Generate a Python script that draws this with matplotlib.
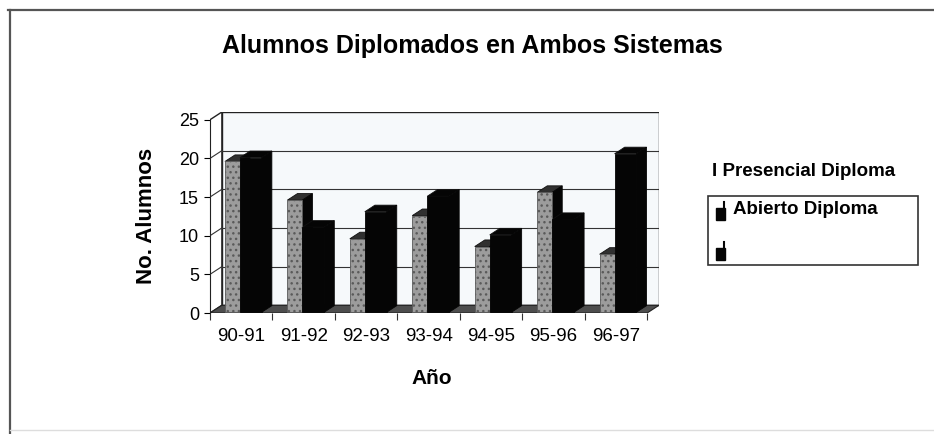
import matplotlib.pyplot as plt
from matplotlib.patches import Polygon, Rectangle
from matplotlib.lines import Line2D

years = ['90-91', '91-92', '92-93', '93-94', '94-95', '95-96', '96-97']
presencial = [19.5, 14.5, 9.5, 12.5, 8.5, 15.5, 7.5]
abierto = [20, 11, 13, 15, 10, 12, 20.5]
y_ticks = [0, 5, 10, 15, 20, 25]

plt.rcParams['font.family'] = ['Liberation Sans', 'DejaVu Sans']

W, H = 934, 434
fig = plt.figure(figsize=(W / 100, H / 100), dpi=100)

n = len(years)
ymax = y_ticks[-1]
DX, DY = 0.19, 1.0        # depth of the 3d box in data units
f0, f1 = 0.1, 0.95        # bar depth inside the box

ax = fig.add_axes([210 / W, 121 / H, 449 / W, 201 / H])
ax.set_xlim(-0.5, n - 0.5 + DX)
ax.set_ylim(0, ymax + DY)
ax.patch.set_visible(False)

x0, x1 = -0.5, n - 0.5
# walls and floor
ax.add_patch(Rectangle((x0 + DX, DY), n, ymax, fc='#f6f9fb', ec='#222222', lw=1, zorder=0))
ax.add_patch(Polygon([(x0, 0), (x0 + DX, DY), (x0 + DX, ymax + DY), (x0, ymax)],
                     closed=True, fc='white', ec='#222222', lw=1, zorder=0))
ax.add_patch(Polygon([(x0, 0), (x1, 0), (x1 + DX, DY), (x0 + DX, DY)],
                     closed=True, fc='#4d4d4d', ec='#222222', lw=0.8, zorder=1))
for v in y_ticks[1:-1]:
    ax.plot([x0 + DX, x1 + DX], [v + DY, v + DY], color='#333333', lw=0.8, zorder=0.5)
    ax.plot([x0, x0 + DX], [v, v + DY], color='#333333', lw=0.8, zorder=0.5)

ddx, ddy = (f1 - f0) * DX, (f1 - f0) * DY


def bars3d(offset, width, vals, top):
    xs = [i + offset + f0 * DX for i in range(n)]
    b = f0 * DY
    for xl, v in zip(xs, vals):
        xr, t = xl + width, v + b
        ax.add_patch(Polygon([(xl, t), (xr, t), (xr + ddx, t + ddy), (xl + ddx, t + ddy)],
                             closed=True, fc=top, ec='#111111', lw=0.6, zorder=2))
        ax.add_patch(Polygon([(xr, b), (xr, t), (xr + ddx, t + ddy), (xr + ddx, b + ddy)],
                             closed=True, fc='#050505', ec='#050505', lw=0.6, zorder=2))
    return xs


wg, wb = 0.24, 0.35
xs = bars3d(-0.28, wg, presencial, '#303030')
ax.bar(xs, presencial, width=wg, bottom=f0 * DY, align='edge', color='#9c9c9c',
       edgecolor='#5a5a5a', hatch='...', lw=0.6, zorder=3)
xs = bars3d(-0.28 + wg, wb, abierto, '#050505')
ax.bar(xs, abierto, width=wb, bottom=f0 * DY, align='edge', color='#050505',
       edgecolor='#050505', lw=0.6, zorder=3)

for s in ['top', 'right', 'bottom']:
    ax.spines[s].set_visible(False)
ax.spines['left'].set_bounds(0, ymax)
ax.spines['left'].set_color('#222222')
ax.set_yticks(y_ticks)
ax.tick_params(axis='y', length=4, width=0.8, pad=4, labelsize=13)
ax.set_xticks(range(n))
ax.set_xticklabels(years)
ax.set_xticks([i - 0.5 for i in range(n + 1)], minor=True)
ax.tick_params(axis='x', which='major', length=0, pad=11, labelsize=13.5)
ax.tick_params(axis='x', which='minor', length=5, width=0.8, color='#333333')

fig.text(472 / W, 1 - 46 / H, 'Alumnos Diplomados en Ambos Sistemas', ha='center', va='center',
         fontsize=18, fontweight='bold')
fig.text(147 / W, 1 - 216 / H, 'No. Alumnos', rotation=90, ha='center', va='center',
         fontsize=16, fontweight='bold')
fig.text(432 / W, 1 - 378 / H, 'Año', ha='center', va='center', fontsize=15, fontweight='bold')

# legend, as laid out in the scan
fig.text(712 / W, 1 - 172 / H, 'I Presencial Diploma', ha='left', va='center',
         fontsize=13.5, fontweight='bold')
fig.add_artist(Rectangle((708 / W, 1 - 265 / H), 210 / W, 69 / H, transform=fig.transFigure,
                         fc='white', ec='#333333', lw=1.2))
fig.text(733 / W, 1 - 209 / H, 'Abierto Diploma', ha='left', va='center',
         fontsize=13.5, fontweight='bold')
for yk in [220, 260]:
    fig.add_artist(Rectangle((716 / W, 1 - yk / H), 9 / W, 12 / H, transform=fig.transFigure,
                             fc='#050505', ec='#050505'))
    fig.add_artist(Line2D([724 / W, 724 / W], [1 - (yk - 10) / H, 1 - (yk - 18) / H],
                          transform=fig.transFigure, color='#050505', lw=1.5))

# outer frame of the scanned chart
fig.add_artist(Line2D([8 / W, 1], [1 - 10 / H, 1 - 10 / H], transform=fig.transFigure,
                      color='#555555', lw=1.6))
fig.add_artist(Line2D([10 / W, 10 / W], [0, 1 - 10 / H], transform=fig.transFigure,
                      color='#555555', lw=1.6))
fig.add_artist(Line2D([10 / W, 1], [4 / H, 4 / H], transform=fig.transFigure,
                      color='#dddddd', lw=1))

fig.savefig('out.png', dpi=100)
